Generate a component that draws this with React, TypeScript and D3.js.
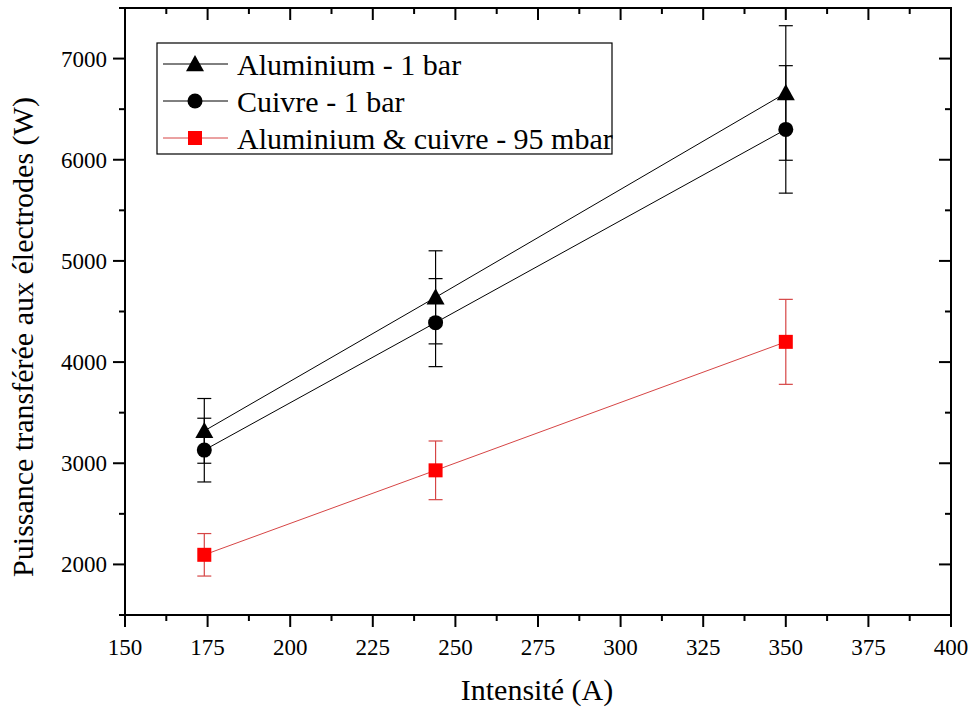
import React from "react";
import * as d3 from "d3";

const intensities = [174, 244, 350];
const aluminium1bar = [3320, 4640, 6660];
const aluminium1barErr = [320, 460, 665];
const cuivre1bar = [3130, 4390, 6300];
const cuivre1barErr = [315, 435, 630];
const mixed95mbar = [2095, 2930, 4200];
const mixed95mbarErr = [210, 290, 420];

const xTicks = [150, 175, 200, 225, 250, 275, 300, 325, 350, 375, 400];
const yTicks = [2000, 3000, 4000, 5000, 6000, 7000];

const legendLabels = ["Aluminium - 1 bar", "Cuivre - 1 bar", "Aluminium & cuivre - 95 mbar"];

const W = 973, H = 711;
const L = 125, R = 951, T = 8, B = 615;
const FONT = "'Liberation Serif', 'Times New Roman', serif";

export default function App() {
  const x = d3.scaleLinear().domain([150, 400]).range([L, R]);
  const y = d3.scaleLinear().domain([1500, 7500]).range([B, T]);
  const line = d3.line<[number, number]>().x(d => x(d[0])).y(d => y(d[1]));

  const series = [
    { vals: aluminium1bar, err: aluminium1barErr, color: "#000", lineColor: "#000", shape: "tri" },
    { vals: cuivre1bar, err: cuivre1barErr, color: "#000", lineColor: "#000", shape: "circ" },
    { vals: mixed95mbar, err: mixed95mbarErr, color: "#ff0000", lineColor: "#d64545", shape: "sq" },
  ];

  const marker = (shape: string, cx: number, cy: number, color: string, key?: any) => {
    if (shape === "tri") {
      const s = 9;
      return <path key={key} d={`M${cx},${cy - s}L${cx + s},${cy + s * 0.8}L${cx - s},${cy + s * 0.8}Z`} fill={color} />;
    }
    if (shape === "circ") return <circle key={key} cx={cx} cy={cy} r={7.5} fill={color} />;
    return <rect key={key} x={cx - 7} y={cy - 7} width={14} height={14} fill={color} />;
  };

  const xMinor = d3.range(162.5, 400, 25);
  const yMinor = d3.range(1500, 7501, 500).filter(v => v % 1000 !== 0);

  return (
    <svg width={W} height={H} style={{ position: "absolute", left: 0, top: 0, background: "#fff" }}>
      <rect width={W} height={H} fill="#fff" />
      {series.map((s, i) => (
        <path key={"l" + i} d={line(intensities.map((v, j) => [v, s.vals[j]]) as [number, number][]) || ""}
          fill="none" stroke={s.lineColor} strokeWidth={1} />
      ))}
      {series.map((s, i) => intensities.map((v, j) => {
        const cx = x(v);
        const y1 = y(s.vals[j] + s.err[j]);
        const y2 = y(s.vals[j] - s.err[j]);
        return (
          <g key={"e" + i + j} stroke={s.lineColor} strokeWidth={1.2}>
            <line x1={cx} x2={cx} y1={y1} y2={y2} />
            <line x1={cx - 7} x2={cx + 7} y1={y1} y2={y1} />
            <line x1={cx - 7} x2={cx + 7} y1={y2} y2={y2} />
          </g>
        );
      }))}
      {series.map((s, i) => intensities.map((v, j) => marker(s.shape, x(v), y(s.vals[j]), s.color, "m" + i + j)))}

      <rect x={L} y={T} width={R - L} height={B - T} fill="none" stroke="#000" strokeWidth={2} />
      {xTicks.map(v => (
        <g key={"xt" + v}>
          <line x1={x(v)} x2={x(v)} y1={B} y2={B + 12} stroke="#000" strokeWidth={2} />
          <line x1={x(v)} x2={x(v)} y1={T} y2={T + 12} stroke="#000" strokeWidth={2} />
          <text x={x(v)} y={655} textAnchor="middle" fontFamily={FONT} fontSize={23}>{v}</text>
        </g>
      ))}
      {xMinor.map(v => (
        <g key={"xm" + v}>
          <line x1={x(v)} x2={x(v)} y1={B} y2={B + 6} stroke="#000" strokeWidth={2} />
          <line x1={x(v)} x2={x(v)} y1={T} y2={T + 6} stroke="#000" strokeWidth={2} />
        </g>
      ))}
      {yTicks.map(v => (
        <g key={"yt" + v}>
          <line x1={L - 12} x2={L} y1={y(v)} y2={y(v)} stroke="#000" strokeWidth={2} />
          <line x1={R - 12} x2={R} y1={y(v)} y2={y(v)} stroke="#000" strokeWidth={2} />
          <text x={107} y={y(v)} dy="0.35em" textAnchor="end" fontFamily={FONT} fontSize={23}>{v}</text>
        </g>
      ))}
      {yMinor.map(v => (
        <g key={"ym" + v}>
          <line x1={L - 6} x2={L} y1={y(v)} y2={y(v)} stroke="#000" strokeWidth={2} />
          <line x1={R - 6} x2={R} y1={y(v)} y2={y(v)} stroke="#000" strokeWidth={2} />
        </g>
      ))}

      <text x={537} y={700} textAnchor="middle" fontFamily={FONT} fontSize={30}>Intensité (A)</text>
      <text transform={`translate(33,337) rotate(-90)`} textAnchor="middle" fontFamily={FONT} fontSize={30}>
        Puissance transférée aux électrodes (W)
      </text>

      <rect x={157} y={43} width={455} height={111} fill="#fff" stroke="#000" strokeWidth={1.2} />
      {series.map((s, i) => {
        const ly = 64 + i * 37;
        return (
          <g key={"lg" + i}>
            <line x1={163} x2={228} y1={ly} y2={ly} stroke={s.lineColor} strokeWidth={1} />
            {marker(s.shape, 195, ly, s.color)}
            <text x={237} y={ly} dy="0.35em" fontFamily={FONT} fontSize={30}>{legendLabels[i]}</text>
          </g>
        );
      })}
    </svg>
  );
}
